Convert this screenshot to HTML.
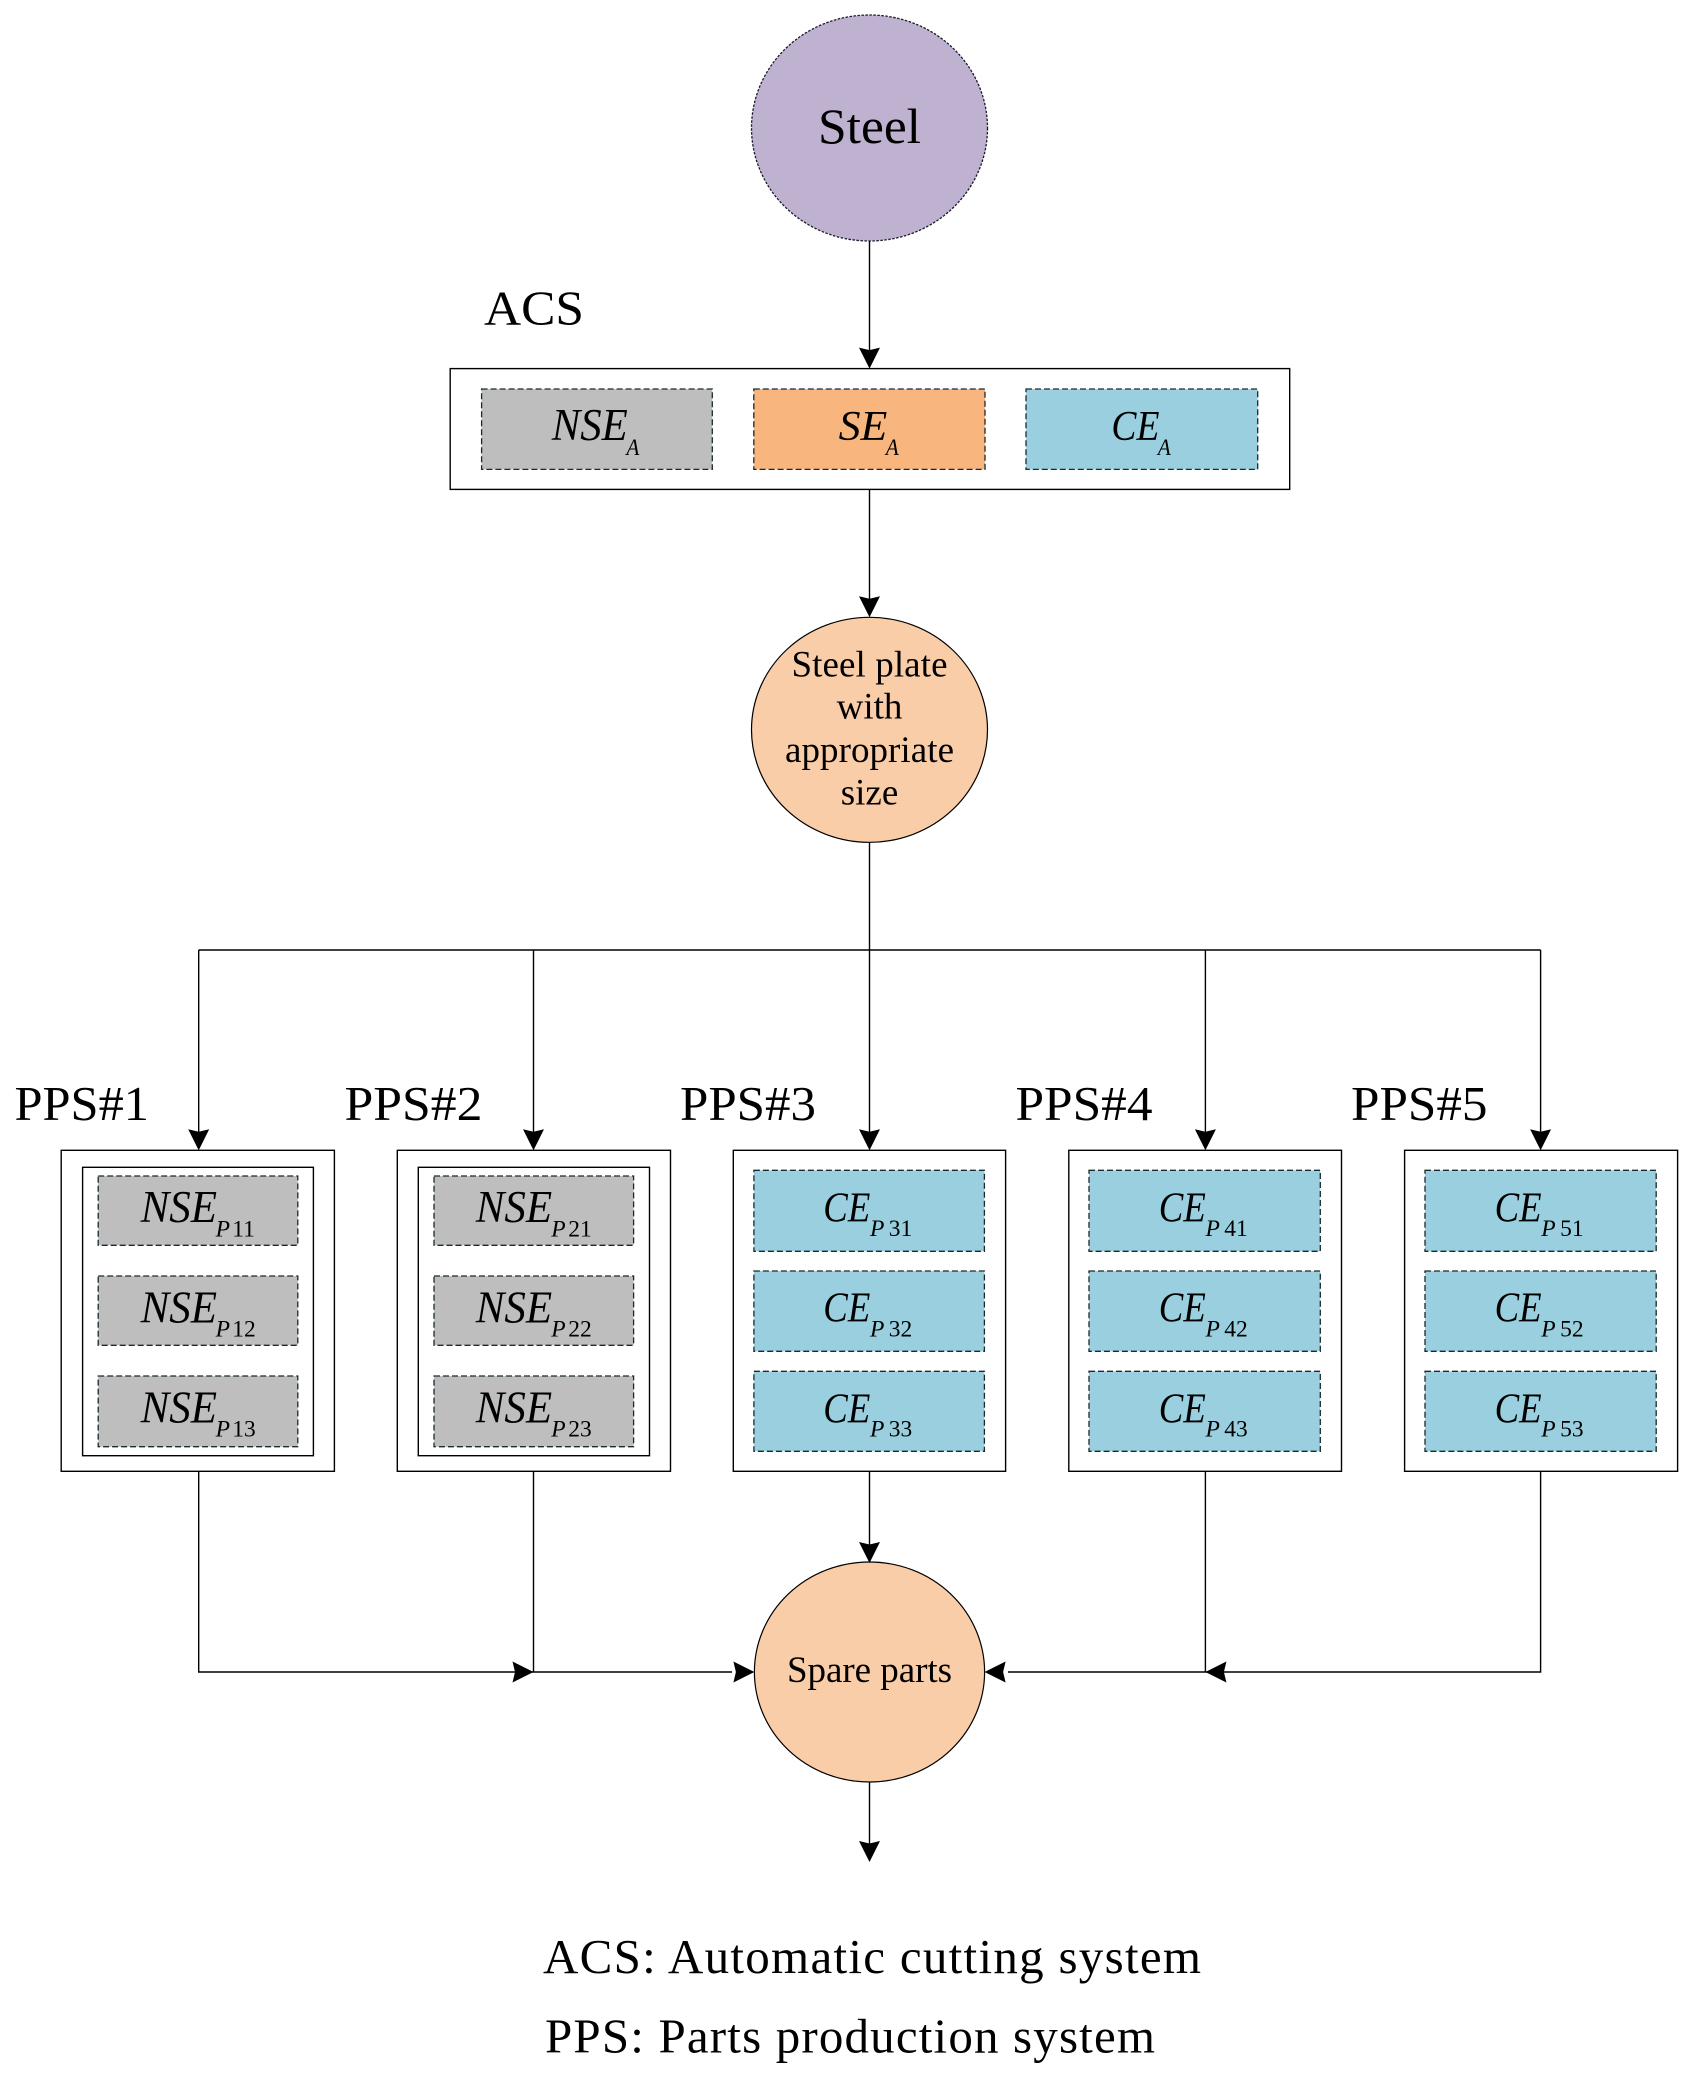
<!DOCTYPE html>
<html><head><meta charset="utf-8"><style>
html,body{margin:0;padding:0;background:#fff}
svg{display:block}
text{font-family:"Liberation Serif",serif;fill:#000}
.l{fill:none;stroke:#000;stroke-width:1.4}
.b{fill:#fff;stroke:#000;stroke-width:1.4}
.d{stroke:#1a2a30;stroke-width:1.3;stroke-dasharray:6 3}
.g{fill:#BEBEBE}.o{fill:#F8B57D}.c{fill:#99CFDE}
.m{font-style:italic;font-size:45px}
.s{font-size:23.5px}.i{font-style:italic}
.t{font-size:49px}
.n{font-size:37px}
</style></head><body>
<svg width="1687" height="2075" viewBox="0 0 1687 2075" xmlns="http://www.w3.org/2000/svg">
<defs>
<path id="ad" d="M-10.5,-21 L0,-18.5 L10.5,-21 L0,0 Z"/>
</defs>
<rect width="1687" height="2075" fill="#fff"/>

<!-- Steel -->
<ellipse cx="869.5" cy="128" rx="118" ry="113" fill="#BFB2D1" stroke="#1a1a2a" stroke-width="1.3" stroke-dasharray="2.5 1.5"/>
<text x="869.5" y="143" font-size="50" text-anchor="middle" textLength="103" lengthAdjust="spacingAndGlyphs">Steel</text>
<text class="t" x="484" y="324.5" textLength="100" lengthAdjust="spacingAndGlyphs">ACS</text>

<!-- Connectors -->
<path class="l" d="M869.5,241V352M869.5,489V600M869.5,842V1134M198.7,950H1540.6M198.7,950V1134M533.5,950V1134M1205.4,950V1134M1540.6,950V1134M198.7,1471V1672H732M1540.6,1471V1672H1008M533.5,1471V1672M1205.4,1471V1672M869.5,1471V1548M869.5,1782V1846"/>

<!-- ACS box -->
<rect class="b" x="450.2" y="368.6" width="839.5" height="120.8"/>
<rect class="g d" x="481.6" y="389" width="230.7" height="80.4"/>
<rect class="o d" x="753.8" y="389" width="231.2" height="80.4"/>
<rect class="c d" x="1026" y="389" width="231.7" height="80.4"/>
<text class="m" x="551.8" y="440" textLength="76" lengthAdjust="spacingAndGlyphs">NSE</text>
<text class="s i" x="626.4" y="455" textLength="13" lengthAdjust="spacingAndGlyphs">A</text>
<text class="m" x="838.6" y="440" style="font-size:42px" textLength="48.7" lengthAdjust="spacingAndGlyphs">SE</text>
<text class="s i" x="885.7" y="455" textLength="13" lengthAdjust="spacingAndGlyphs">A</text>
<text class="m" x="1111.4" y="440" style="font-size:42px" textLength="48" lengthAdjust="spacingAndGlyphs">CE</text>
<text class="s i" x="1157.8" y="455" textLength="13" lengthAdjust="spacingAndGlyphs">A</text>

<!-- Plate -->
<ellipse cx="869.5" cy="729.8" rx="118" ry="112.5" fill="#FACDA9" stroke="#000" stroke-width="1.2"/>
<text class="n" x="869.5" y="676.7" text-anchor="middle" textLength="156">Steel plate</text>
<text class="n" x="869.5" y="718.3" text-anchor="middle">with</text>
<text class="n" x="869.5" y="762" text-anchor="middle" textLength="169">appropriate</text>
<text class="n" x="869.5" y="804.3" text-anchor="middle">size</text>

<!-- PPS labels -->
<text class="t" x="14.5" y="1120" textLength="134.5" lengthAdjust="spacingAndGlyphs">PPS#1</text>
<text class="t" x="344.5" y="1120" textLength="138" lengthAdjust="spacingAndGlyphs">PPS#2</text>
<text class="t" x="680" y="1120" textLength="136" lengthAdjust="spacingAndGlyphs">PPS#3</text>
<text class="t" x="1015.5" y="1120" textLength="137" lengthAdjust="spacingAndGlyphs">PPS#4</text>
<text class="t" x="1351" y="1120" textLength="136.5" lengthAdjust="spacingAndGlyphs">PPS#5</text>

<!-- PPS1 -->
<g transform="translate(61.2,0)">
<rect class="b" x="0" y="1150.3" width="273.2" height="321"/>
<rect class="b" x="21.4" y="1167.3" width="230.8" height="288.4"/>
<rect class="g d" x="37" y="1176" width="199.6" height="69.3"/>
<rect class="g d" x="37" y="1276" width="199.6" height="69.3"/>
<rect class="g d" x="37" y="1376" width="199.6" height="70.7"/>
<text class="m" x="79.4" y="1222" textLength="76.4" lengthAdjust="spacingAndGlyphs">NSE</text>
<text class="s i" x="154.4" y="1236.7">P</text><text class="s" x="171" y="1236.7">11</text>
<text class="m" x="79.4" y="1322.7" textLength="76.4" lengthAdjust="spacingAndGlyphs">NSE</text>
<text class="s i" x="154.4" y="1336.7">P</text><text class="s" x="171" y="1336.7">12</text>
<text class="m" x="79.4" y="1422.7" textLength="76.4" lengthAdjust="spacingAndGlyphs">NSE</text>
<text class="s i" x="154.4" y="1436.7">P</text><text class="s" x="171" y="1436.7">13</text>
</g>
<!-- PPS2 -->
<g transform="translate(397.3,0)">
<rect class="b" x="0" y="1150.3" width="273.2" height="321"/>
<rect class="b" x="21" y="1167.3" width="231.2" height="288.4"/>
<rect class="g d" x="36.7" y="1176" width="199.6" height="69.3"/>
<rect class="g d" x="36.7" y="1276" width="199.6" height="69.3"/>
<rect class="g d" x="36.7" y="1376" width="199.6" height="70.7"/>
<text class="m" x="78.4" y="1222" textLength="76.4" lengthAdjust="spacingAndGlyphs">NSE</text>
<text class="s i" x="154" y="1236.7">P</text><text class="s" x="171" y="1236.7">21</text>
<text class="m" x="78.4" y="1322.7" textLength="76.4" lengthAdjust="spacingAndGlyphs">NSE</text>
<text class="s i" x="154" y="1336.7">P</text><text class="s" x="171" y="1336.7">22</text>
<text class="m" x="78.4" y="1422.7" textLength="76.4" lengthAdjust="spacingAndGlyphs">NSE</text>
<text class="s i" x="154" y="1436.7">P</text><text class="s" x="171" y="1436.7">23</text>
</g>
<!-- PPS3 -->
<g transform="translate(733.3,0)">
<rect class="b" x="0" y="1150.3" width="272.3" height="321"/>
<rect class="c d" x="20.6" y="1170.3" width="230.5" height="81"/>
<rect class="c d" x="20.6" y="1271" width="230.5" height="80.3"/>
<rect class="c d" x="20.6" y="1371.3" width="230.5" height="80"/>
<text class="m" x="90" y="1221.5" style="font-size:42px" textLength="47" lengthAdjust="spacingAndGlyphs">CE</text>
<text class="s i" x="136.7" y="1236">P</text><text class="s" x="155.5" y="1236">31</text>
<text class="m" x="90" y="1321.3" style="font-size:42px" textLength="47" lengthAdjust="spacingAndGlyphs">CE</text>
<text class="s i" x="136.7" y="1336.7">P</text><text class="s" x="155.5" y="1336.7">32</text>
<text class="m" x="90" y="1422.7" style="font-size:42px" textLength="47" lengthAdjust="spacingAndGlyphs">CE</text>
<text class="s i" x="136.7" y="1436.7">P</text><text class="s" x="155.5" y="1436.7">33</text>
</g>
<!-- PPS4 -->
<g transform="translate(1068.8,0)">
<rect class="b" x="0" y="1150.3" width="272.7" height="321"/>
<rect class="c d" x="20.2" y="1170.3" width="231.3" height="81"/>
<rect class="c d" x="20.2" y="1271" width="231.3" height="80.3"/>
<rect class="c d" x="20.2" y="1371.3" width="231.3" height="80"/>
<text class="m" x="90" y="1221.5" style="font-size:42px" textLength="47" lengthAdjust="spacingAndGlyphs">CE</text>
<text class="s i" x="136.7" y="1236">P</text><text class="s" x="155.5" y="1236">41</text>
<text class="m" x="90" y="1321.3" style="font-size:42px" textLength="47" lengthAdjust="spacingAndGlyphs">CE</text>
<text class="s i" x="136.7" y="1336.7">P</text><text class="s" x="155.5" y="1336.7">42</text>
<text class="m" x="90" y="1422.7" style="font-size:42px" textLength="47" lengthAdjust="spacingAndGlyphs">CE</text>
<text class="s i" x="136.7" y="1436.7">P</text><text class="s" x="155.5" y="1436.7">43</text>
</g>
<!-- PPS5 -->
<g transform="translate(1404.6,0)">
<rect class="b" x="0" y="1150.3" width="273" height="321"/>
<rect class="c d" x="20.4" y="1170.3" width="231.2" height="81"/>
<rect class="c d" x="20.4" y="1271" width="231.2" height="80.3"/>
<rect class="c d" x="20.4" y="1371.3" width="231.2" height="80"/>
<text class="m" x="90" y="1221.5" style="font-size:42px" textLength="47" lengthAdjust="spacingAndGlyphs">CE</text>
<text class="s i" x="136.7" y="1236">P</text><text class="s" x="155.5" y="1236">51</text>
<text class="m" x="90" y="1321.3" style="font-size:42px" textLength="47" lengthAdjust="spacingAndGlyphs">CE</text>
<text class="s i" x="136.7" y="1336.7">P</text><text class="s" x="155.5" y="1336.7">52</text>
<text class="m" x="90" y="1422.7" style="font-size:42px" textLength="47" lengthAdjust="spacingAndGlyphs">CE</text>
<text class="s i" x="136.7" y="1436.7">P</text><text class="s" x="155.5" y="1436.7">53</text>
</g>

<!-- Spare parts -->
<ellipse cx="869.5" cy="1672" rx="115.1" ry="110" fill="#FACDA9" stroke="#000" stroke-width="1.2"/>
<text class="n" x="869.5" y="1682" text-anchor="middle" textLength="165">Spare parts</text>

<!-- Arrowheads -->
<use href="#ad" x="869.5" y="368.6"/>
<use href="#ad" x="869.5" y="617.3"/>
<use href="#ad" x="198.7" y="1150.3"/>
<use href="#ad" x="533.5" y="1150.3"/>
<use href="#ad" x="869.5" y="1150.3"/>
<use href="#ad" x="1205.4" y="1150.3"/>
<use href="#ad" x="1540.6" y="1150.3"/>
<use href="#ad" x="869.5" y="1563"/>
<use href="#ad" x="869.5" y="1862"/>
<use href="#ad" transform="translate(533.5,1672) rotate(-90)"/>
<use href="#ad" transform="translate(754.4,1672) rotate(-90)"/>
<use href="#ad" transform="translate(984.6,1672) rotate(90)"/>
<use href="#ad" transform="translate(1205.4,1672) rotate(90)"/>

<!-- Legend -->
<text x="543" y="1973" font-size="49" textLength="658" lengthAdjust="spacing">ACS: Automatic cutting system</text>
<text x="545" y="2052.6" font-size="49" textLength="610" lengthAdjust="spacing">PPS: Parts production system</text>
</svg>
</body></html>
